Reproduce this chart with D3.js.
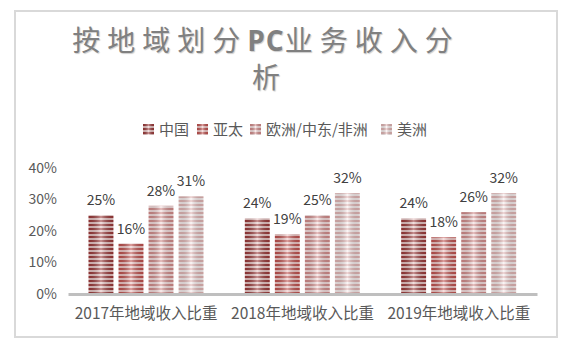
<!DOCTYPE html>
<html><head><meta charset="utf-8">
<script src="https://cdn.jsdelivr.net/npm/d3@7/dist/d3.min.js"></script>
<style>body{margin:0;background:#fff}svg{display:block}</style>
</head><body>
<script>
const categories = ["2017年地域收入比重","2018年地域收入比重","2019年地域收入比重"];
const seriesNames = ["中国","亚太","欧洲/中东/非洲","美洲"];
const china = [25,24,24];
const asia = [16,19,18];
const emea = [28,25,26];
const americas = [31,32,32];
const yTicks = [0,10,20,30,40];
const titleParts = ["按地域划分","PC","业务收入分"];
const titleLine2 = "析";

const seriesValues = [china, asia, emea, americas];
const stripeColors = ["#9b3838","#c0504d","#d38b8a","#e2b5b4"];
const lightColors  = ["#e8c4c3","#f0c6c5","#f6dddd","#f9eeee"];

const W=575,H=344;
const svg=d3.select("body").append("svg").attr("width",W).attr("height",H);
const defs=svg.append("defs");
const font="'Noto Sans CJK SC','Noto Sans',sans-serif";

// patterns
stripeColors.forEach((c,i)=>{
  const p=defs.append("pattern").attr("id","pat"+i).attr("patternUnits","userSpaceOnUse")
    .attr("width",8).attr("height",4);
  p.append("rect").attr("width",8).attr("height",4).attr("fill",lightColors[i]);
  p.append("rect").attr("width",8).attr("height",2).attr("fill",c);
});
const g=defs.append("linearGradient").attr("id","shine").attr("x1","0").attr("x2","1").attr("y1","0").attr("y2","0");
g.append("stop").attr("offset","0").attr("stop-color","#000").attr("stop-opacity",0.1);
g.append("stop").attr("offset","0.5").attr("stop-color","#fff").attr("stop-opacity",0.45);
g.append("stop").attr("offset","1").attr("stop-color","#000").attr("stop-opacity",0.1);

// frame
svg.append("rect").attr("x",15).attr("y",11).attr("width",542).attr("height",326)
  .attr("fill","#fff").attr("stroke","#d9d9d9").attr("stroke-width",2);

// title
const t1=svg.append("text").attr("x",266).attr("y",51).attr("text-anchor","middle")
  .attr("font-family",font).attr("font-size",28)
  .attr("fill","#808080").style("text-shadow","1px 1px 1px rgba(0,0,0,0.2)");
titleParts.forEach((p,i)=>{
  t1.append("tspan").attr("letter-spacing",i===1?1:7)
    .attr("font-weight",i===1?700:400).attr("font-family",i===1?"'Open Sans',sans-serif":font).text(p);
});
svg.append("text").attr("x",266).attr("y",88).attr("text-anchor","middle")
  .attr("font-family",font).attr("font-size",28)
  .attr("fill","#808080").style("text-shadow","1px 1px 1px rgba(0,0,0,0.2)").text(titleLine2);

// legend
const legendX=[143,197,250,381];
seriesNames.forEach((n,i)=>{
  svg.append("rect").attr("x",legendX[i]).attr("y",124).attr("width",11).attr("height",11).attr("fill","url(#pat"+i+")");
  svg.append("rect").attr("x",legendX[i]).attr("y",124).attr("width",11).attr("height",11).attr("fill","url(#shine)");
  svg.append("text").attr("x",legendX[i]+16).attr("y",135).attr("font-family",font).attr("font-size",15)
    .attr("fill","#595959").text(n);
});

// scales
const x0=d3.scaleBand().domain(categories).range([68,537]);
const x1=d3.scaleBand().domain(d3.range(4)).range([20.5,135.5]).paddingInner(0.17);
const y=d3.scaleLinear().domain([0,40]).range([294,168]);

// y axis labels
const ya=svg.append("g").attr("transform","translate(57,0)")
  .call(d3.axisLeft(y).tickValues(yTicks).tickFormat(d=>d+"%").tickSize(0).tickPadding(0));
ya.select(".domain").remove();
ya.selectAll("text").attr("font-family",font).attr("font-size",14).attr("fill","#595959");

// bars
categories.forEach((c,ci)=>{
  seriesValues.forEach((vals,si)=>{
    const bx=x0(c)+x1(si), bw=x1.bandwidth(), by=y(vals[ci]), bh=y(0)-y(vals[ci]);
    svg.append("rect").attr("x",bx).attr("y",by).attr("width",bw).attr("height",bh).attr("fill","url(#pat"+si+")");
    svg.append("rect").attr("x",bx).attr("y",by).attr("width",bw).attr("height",bh).attr("fill","url(#shine)");
    svg.append("text").attr("x",bx+bw/2).attr("y",by-10).attr("text-anchor","middle")
      .attr("font-family",font).attr("font-size",14).attr("fill","#404040").text(vals[ci]+"%");
  });
});

// x axis
const xa=svg.append("g").attr("transform","translate(0,294)")
  .call(d3.axisBottom(x0).tickSize(0).tickPadding(0));
xa.select(".domain").attr("stroke","#bfbfbf").attr("stroke-width",3);
xa.selectAll("text").attr("font-family",font).attr("font-size",15.5).attr("fill","#595959")
  .attr("dy",0).attr("y",25);
</script>
</body></html>
